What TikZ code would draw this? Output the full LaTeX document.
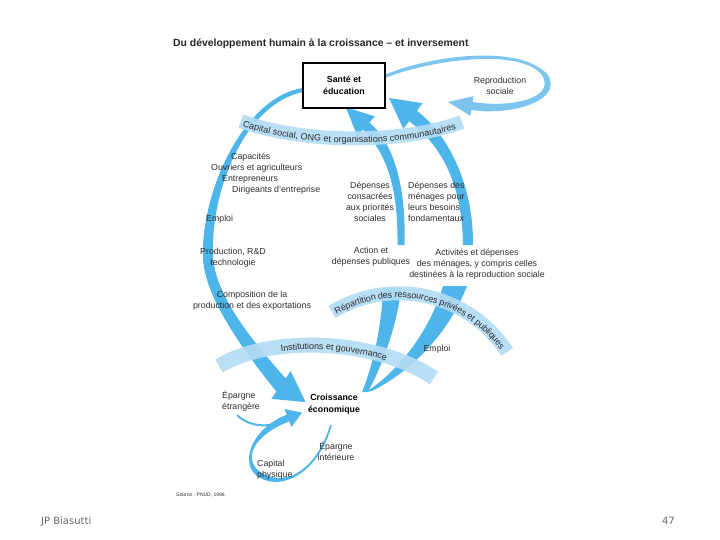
\documentclass[tikz,border=0pt]{standalone}
\usepackage{fontspec}
\setmainfont{Liberation Sans}
\newfontfamily\footfont{DejaVu Sans}
\usetikzlibrary{decorations.text}

\definecolor{arrowblue}{RGB}{78,181,234}
\definecolor{bandblue}{RGB}{178,220,243}
\definecolor{loopblue}{RGB}{125,197,238}
\definecolor{textgrey}{RGB}{45,45,45}

\begin{document}
\begin{tikzpicture}[x=1pt,y=-1pt,
    lbl/.style={font=\fontsize{8.8}{11}\selectfont, text=textgrey, inner sep=0pt, align=center},
    boldlbl/.style={lbl, font=\bfseries\fontsize{8.8}{11.5}\selectfont, text=black},
    band/.style={draw=bandblue, draw opacity=0.92, line width=14pt},
    bandtext/.style={decorate, decoration={text along path, raise=-4.5pt, text color=textgrey, #1}}]

    \useasboundingbox (0,0) rectangle (720,540);

    \coordinate (capL) at (241,121);
    \coordinate (capR) at (462,122);
    \coordinate (repL) at (332,312);
    \coordinate (instL) at (219,366);
    \coordinate (instR) at (434,378);

    % grand arc: sante -> croissance
    \fill[arrowblue] (302.7,88) .. controls (244.5,97) and (201.5,190) .. (203,255)
        .. controls (202,300) and (257.7,368) .. (276.4,391.6)
        -- (271.3,398.9) -- (305.6,402.1) -- (290.7,371.1) -- (285.6,378.4)
        .. controls (266.3,356) and (214,300) .. (213,255)
        .. controls (210.5,190) and (245.5,103) .. (303.3,92) -- cycle;

    % depenses publiques -> sante
    \fill[arrowblue] (397.5,245) .. controls (398,190) and (388,154) .. (362.6,129.6)
        -- (357.2,135.5) -- (345.6,107) -- (374.8,116.5) -- (369.4,122.4)
        .. controls (396,146) and (406,190) .. (404.5,245) -- cycle;

    % depenses des menages -> sante
    \fill[arrowblue] (463,245) .. controls (462.5,185) and (441.4,144.8) .. (409.1,121.2)
        -- (403.4,128.8) -- (389,98) -- (422.6,103.2) -- (416.9,110.8)
        .. controls (448.6,135.2) and (473.5,185) .. (473,245) -- cycle;

    % croissance -> action / activites
    \fill[arrowblue] (383,288) .. controls (382,320) and (375,360) .. (362,392)
        -- (368,392) .. controls (385,360) and (398,320) .. (401,288) -- cycle;
    \fill[arrowblue] (443,286) .. controls (430,330) and (400,370) .. (366,392)
        -- (372,391) .. controls (410,372) and (448,335) .. (467,286) -- cycle;

    % reproduction sociale
    \fill[loopblue] (385.4,74.6) .. controls (429,56) and (520,43) .. (548,75)
        .. controls (563.5,101) and (510.5,116) .. (471.4,110)
        -- (470.4,115.9) -- (448,102) -- (473.6,96.1) -- (472.6,102)
        .. controls (509.5,108) and (556.5,99) .. (542,75)
        .. controls (520,47.5) and (431,60) .. (386.6,77.4) -- cycle;

    % epargne
    \draw[arrowblue, line width=2pt] (237,415) .. controls (250,428) and (272,428) .. (289,419);
    \fill[arrowblue] (331.8,425.2) .. controls (319.5,470.4) and (283.7,492.2) .. (258.7,477.2)
        .. controls (238.5,464.6) and (250.7,428.7) .. (286.7,414.7)
        -- (284.5,409) -- (302,412.5) -- (291.5,427) -- (289.3,421.3)
        .. controls (253.3,435.3) and (241.5,459.4) .. (261.3,472.8)
        .. controls (286.3,487.8) and (316.5,469.6) .. (330.2,424.8) -- cycle;

    % bandes
    \draw[band] (capL) .. controls (300,143) and (400,145) .. (capR);
    \path[bandtext={text align={left indent=3pt},
        text={|\fontsize{9}{10}\selectfont|Capital social, ONG et organisations communautaires}}]
        (capL) .. controls (300,143) and (400,145) .. (capR);

    \draw[band] (repL) arc[start angle=-121.2, end angle=-33.1, radius=129.2];
    \path[bandtext={text align={left indent=3pt},
        text={|\fontsize{9}{10}\selectfont|Répartition des ressources privées et publiques}}]
        (repL) arc[start angle=-121.2, end angle=-33.1, radius=129.2];

    \draw[band, line width=15pt] (instL) .. controls (270,335) and (375,338) .. (instR);
    \path[bandtext={text align={left indent=65pt},
        text={|\fontsize{9}{10}\selectfont|Institutions et gouvernance}}]
        (instL) .. controls (270,335) and (375,338) .. (instR);

    \node[font=\bfseries\fontsize{10.4}{12}\selectfont, text=black!85, anchor=west, inner sep=0pt] (title) at (173,44)
        {Du développement humain à la croissance – et inversement};

    \node[boldlbl, draw, fill=white, line width=1.1pt, minimum width=82pt, minimum height=45pt] (sante) at (344,85.5)
        {Santé et\\éducation};
    \node[lbl] (reproduction) at (500,86) {Reproduction\\sociale};

    \node[lbl, anchor=west] (capacites) at (231,157) {Capacités};
    \node[lbl, anchor=west] (ouvriers) at (211,168) {Ouvriers et agriculteurs};
    \node[lbl, anchor=west] (entrepreneurs) at (222,179) {Entrepreneurs};
    \node[lbl, anchor=west] (dirigeants) at (232,190) {Dirigeants d'entreprise};
    \node[lbl, anchor=west] (emploiA) at (206,219) {Emploi};
    \node[lbl] (production) at (233,258) {Production, R\&D\\technologie};
    \node[lbl] (composition) at (252,301) {Composition de la\\production et des exportations};

    \node[lbl] (priorites) at (370,202) {Dépenses\\consacrées\\aux priorités\\sociales};
    \node[lbl, anchor=west, align=left] (besoins) at (408,202) {Dépenses des\\ménages pour\\leurs besoins\\fondamentaux};
    \node[lbl] (action) at (371,257) {Action et\\dépenses publiques};
    \node[lbl] (activites) at (477,264) {Activités et dépenses\\des ménages, y compris celles\\destinées à la reproduction sociale};
    \node[lbl] (emploiB) at (437,349) {Emploi};

    \node[boldlbl] (croissance) at (334,404) {Croissance\\économique};
    \node[lbl, anchor=west, align=left] (etrangere) at (222,401) {Épargne\\étrangère};
    \node[lbl] (interieure) at (336,451) {Épargne\\intérieure};
    \node[lbl, anchor=west, align=left] (physique) at (257,470) {Capital\\physique};

    \node[font=\fontsize{5}{6}\selectfont, text=textgrey, anchor=west, inner sep=0pt] (source) at (176,495) {Source : PNUD, 1996.};

    \node[font=\footfont\fontsize{10}{12}\selectfont, text=black!60, anchor=base west, inner sep=0pt] (auteur) at (41,524) {JP Biasutti};
    \node[font=\footfont\fontsize{10}{12}\selectfont, text=black!60, anchor=base east, inner sep=0pt] (page) at (675,524) {47};
\end{tikzpicture}
\end{document}
